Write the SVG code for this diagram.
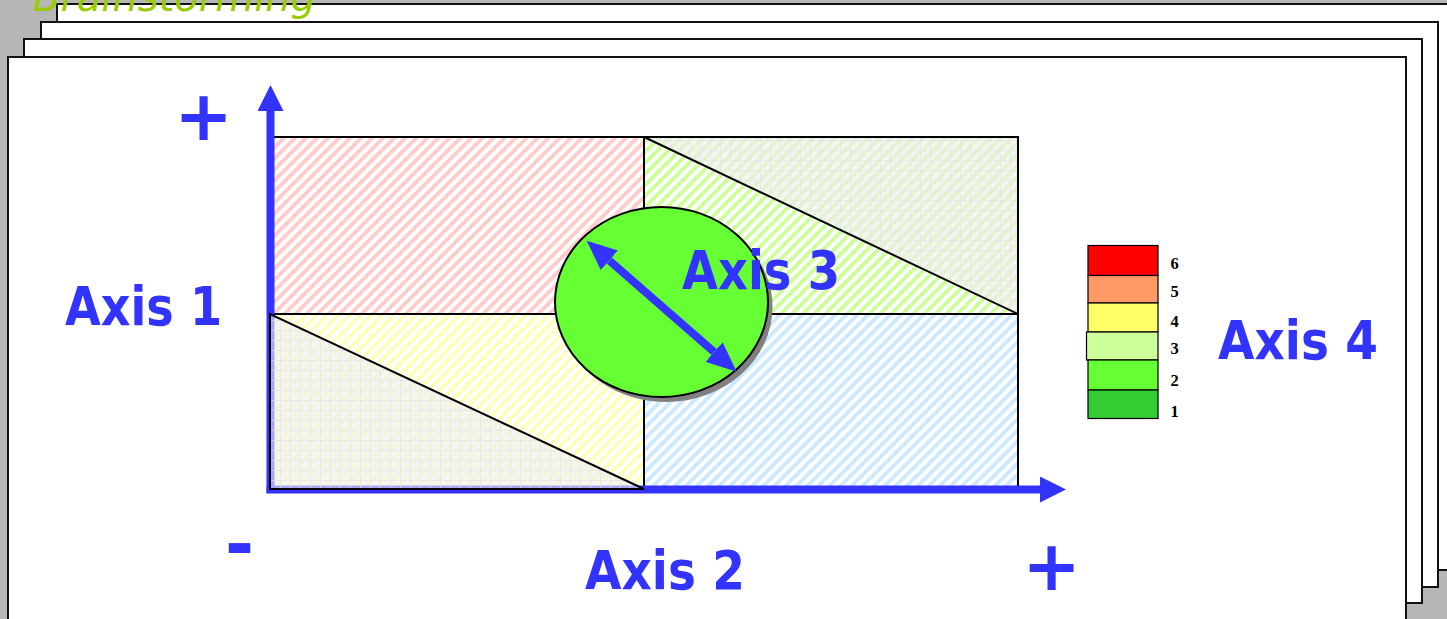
<svg xmlns="http://www.w3.org/2000/svg" width="1447" height="619" viewBox="0 0 1447 619">
  <style>
    .page { fill: #ffffff; stroke: #111111; stroke-width: 2; }
    .zone { stroke: #000000; stroke-width: 2; }
    .axis-label { font-family: "DejaVu Sans", "Liberation Sans", sans-serif; font-weight: bold; font-size: 53px; fill: #3333ff; }
    .sign { font-family: "DejaVu Sans", "Liberation Sans", sans-serif; font-weight: bold; font-size: 70px; fill: #3333ff; text-anchor: middle; }
    .level { font-family: "Liberation Serif", "DejaVu Serif", serif; font-weight: bold; font-size: 16.5px; fill: #000000; }
    .swatch { stroke: #000000; stroke-width: 1.2; }
    .axis { stroke: #3333ff; stroke-width: 8; fill: none; }
  </style>
  <defs>
    <pattern id="hatch-red" width="7.8" height="7.8" patternUnits="userSpaceOnUse" patternTransform="rotate(45)">
      <rect width="7.8" height="7.8" fill="#ffffff"/>
      <rect width="3.9" height="7.8" fill="#ffcccc"/>
    </pattern>
    <pattern id="hatch-green" width="7.8" height="7.8" patternUnits="userSpaceOnUse" patternTransform="rotate(45)">
      <rect width="7.8" height="7.8" fill="#ffffff"/>
      <rect width="3.9" height="7.8" fill="#ccff99"/>
    </pattern>
    <pattern id="hatch-yellow" width="7.8" height="7.8" patternUnits="userSpaceOnUse" patternTransform="rotate(45)">
      <rect width="7.8" height="7.8" fill="#ffffff"/>
      <rect width="3.9" height="7.8" fill="#ffffbb"/>
    </pattern>
    <pattern id="hatch-blue" width="7.8" height="7.8" patternUnits="userSpaceOnUse" patternTransform="rotate(45)">
      <rect width="7.8" height="7.8" fill="#ffffff"/>
      <rect width="3.9" height="7.8" fill="#cce9ff"/>
    </pattern>
    <pattern id="grid-veil" width="10" height="10" patternUnits="userSpaceOnUse">
      <rect width="10" height="10" fill="#eeeeee" fill-opacity="0.62"/>
      <path d="M0,0.5 H10 M0.5,0 V10" stroke="#e4e4e4" stroke-opacity="0.7" stroke-width="1" fill="none"/>
    </pattern>
    <marker id="axis-head" markerUnits="userSpaceOnUse" markerWidth="26" markerHeight="26" refX="0" refY="13" orient="auto">
      <path d="M0,0 L26,13 L0,26 Z" fill="#3333ff"/>
    </marker>
    <marker id="span-head" markerUnits="userSpaceOnUse" markerWidth="30" markerHeight="26" refX="0" refY="13" orient="auto-start-reverse">
      <path d="M0,0 L30,13 L0,26 Z" fill="#3333ff"/>
    </marker>
  </defs>

  <!-- backdrop and stacked sheets -->
  <rect x="0" y="0" width="1447" height="619" fill="#b7b7b7"/>
  <g id="sheets">
    <rect class="page" x="57" y="4" width="1400" height="566"/>
    <rect class="page" x="41" y="22" width="1397" height="565"/>
    <rect class="page" x="24" y="39" width="1398" height="564"/>
    <rect class="page" x="8" y="57" width="1398" height="570"/>
  </g>
  <text id="title" x="33" y="11" font-family="DejaVu Sans, Liberation Sans, sans-serif" font-style="italic" font-size="40" fill="#99cc00" textLength="283" lengthAdjust="spacingAndGlyphs">Brainstorming</text>

  <!-- four quadrants of the matrix -->
  <g id="zone-top-left">
    <rect class="zone" x="270" y="137" width="374" height="177" fill="url(#hatch-red)"/>
  </g>
  <g id="zone-top-right">
    <rect class="zone" x="644" y="137" width="374" height="177" fill="url(#hatch-green)"/>
  </g>
  <g id="zone-bottom-left">
    <rect class="zone" x="270" y="314" width="374" height="175" fill="url(#hatch-yellow)"/>
  </g>
  <g id="zone-bottom-right">
    <rect class="zone" x="644" y="314" width="374" height="175" fill="url(#hatch-blue)"/>
  </g>

  <!-- axes -->
  <g id="connectors">
    <line class="axis" x1="270.5" y1="493" x2="270.5" y2="111" marker-end="url(#axis-head)"/>
    <line class="axis" x1="266.5" y1="489.5" x2="1040" y2="489.5" marker-end="url(#axis-head)"/>
  </g>

  <!-- veiled triangles over the quadrants -->
  <g id="veil-top-right">
    <path class="zone" d="M644,137 L1018,137 L1018,314 Z" fill="url(#grid-veil)"/>
  </g>
  <g id="veil-bottom-left">
    <path class="zone" d="M270,314 L270,489 L644,489 Z" fill="url(#grid-veil)"/>
  </g>

  <!-- Axis 3 bubble with its span arrow -->
  <g id="axis3-bubble">
    <ellipse cx="666" cy="307" rx="106.5" ry="95" fill="#808080"/>
    <ellipse cx="661.5" cy="302" rx="106.5" ry="95" fill="#66ff33" stroke="#000000" stroke-width="2"/>
    <line class="axis" x1="609.3" y1="260.4" x2="714.1" y2="352" marker-start="url(#span-head)" marker-end="url(#span-head)"/>
  </g>

  <!-- axis labels and signs -->
  <g id="label-axis1"><text class="axis-label" x="65" y="325" textLength="157" lengthAdjust="spacingAndGlyphs">Axis 1</text></g>
  <g id="label-axis2"><text class="axis-label" x="585" y="589" textLength="160" lengthAdjust="spacingAndGlyphs">Axis 2</text></g>
  <g id="label-axis3"><text class="axis-label" x="682" y="289" textLength="158" lengthAdjust="spacingAndGlyphs">Axis 3</text></g>
  <g id="label-axis4"><text class="axis-label" x="1218" y="359" textLength="160" lengthAdjust="spacingAndGlyphs">Axis 4</text></g>
  <g id="sign-plus-top"><text class="sign" x="203.5" y="140">+</text></g>
  <g id="sign-minus"><text class="sign" x="239.5" y="568">-</text></g>
  <g id="sign-plus-right"><text class="sign" x="1051.5" y="590">+</text></g>

  <!-- colour scale -->
  <g id="legend">
    <rect class="swatch" x="1088" y="245.5" width="70" height="30" fill="#ff0000"/>
    <rect class="swatch" x="1088" y="275.5" width="70" height="27.5" fill="#ff9966"/>
    <rect class="swatch" x="1088" y="303" width="70" height="29" fill="#ffff66"/>
    <rect class="swatch" x="1086.5" y="332" width="71.5" height="28" fill="#ccff99"/>
    <rect class="swatch" x="1088" y="360" width="70" height="30" fill="#66ff33"/>
    <rect class="swatch" x="1088" y="390" width="70" height="28.5" fill="#33cc33"/>
    <text class="level" x="1170.5" y="269">6</text>
    <text class="level" x="1170.5" y="297">5</text>
    <text class="level" x="1170.5" y="327">4</text>
    <text class="level" x="1170.5" y="354">3</text>
    <text class="level" x="1170.5" y="386">2</text>
    <text class="level" x="1170.5" y="417">1</text>
  </g>
</svg>
